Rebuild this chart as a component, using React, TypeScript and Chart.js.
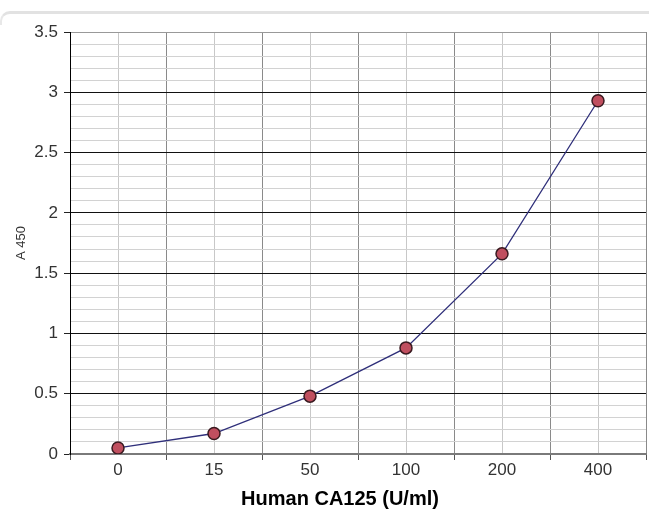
import React, { useEffect, useRef } from "react";
import { Chart, registerables } from "chart.js";

Chart.register(...registerables);

const categories = ["0", "15", "50", "100", "200", "400"];
const absorbance = [0.05, 0.17, 0.48, 0.88, 1.66, 2.93];
const yMin = 0;
const yMax = 3.5;
const yStep = 0.1;
const xTitle = "Human CA125 (U/ml)";
const yTitle = "A 450";

const FONT = "Arial, 'Liberation Sans', sans-serif";

export default function App() {
  const ref = useRef<HTMLCanvasElement | null>(null);

  useEffect(() => {
    if (!ref.current) return;
    const points = absorbance.map((y, i) => ({ x: i, y }));
    const chart = new Chart(ref.current, {
      type: "line",
      data: {
        datasets: [
          {
            data: points,
            borderColor: "#2f2f7a",
            borderWidth: 1.3,
            pointRadius: 6,
            pointBackgroundColor: "#c04f5f",
            pointBorderColor: "#3a1a20",
            pointBorderWidth: 1.5,
            tension: 0,
            fill: false,
          },
        ],
      },
      options: {
        responsive: false,
        animation: false,
        events: [],
        layout: { autoPadding: false, padding: { top: 32, right: 3, left: 0, bottom: 0 } },
        plugins: { legend: { display: false }, tooltip: { enabled: false } },
        scales: {
          x: {
            type: "linear",
            min: -0.5,
            max: categories.length - 0.5,
            afterFit: (s: any) => {
              s.height = 63;
            },
            ticks: {
              stepSize: 0.5,
              autoSkip: false,
              maxRotation: 0,
              padding: 0,
              color: "#333",
              font: { family: FONT, size: 17 },
              callback: (v: any) => {
                const n = Number(v);
                return Number.isInteger(n) ? categories[n] ?? "" : "";
              },
            },
            grid: {
              tickLength: 6,
              lineWidth: 1,
              color: (c: any) => {
                const v = c.tick ? c.tick.value : 0;
                return Number.isInteger(v) ? "#c8c8c8" : "#8a8a8a";
              },
              tickColor: (c: any) => {
                const v = c.tick ? c.tick.value : 0;
                return Number.isInteger(v) ? "rgba(0,0,0,0)" : "#555";
              },
            },
            border: { color: "#7a7a7a", width: 2 },
          },
          y: {
            min: yMin,
            max: yMax,
            afterFit: (s: any) => {
              s.width = 70;
            },
            title: {
              display: true,
              text: yTitle,
              color: "#333",
              font: { family: FONT, size: 13 },
              padding: { top: 14, bottom: 0 },
            },
            ticks: {
              stepSize: yStep,
              autoSkip: false,
              padding: 6,
              color: "#333",
              font: { family: FONT, size: 17 },
              callback: (v: any) => {
                const n = Number(v);
                return Math.round(n * 10) % 5 === 0 ? String(n) : "";
              },
            },
            grid: {
              tickLength: 6,
              lineWidth: 1,
              color: (c: any) => {
                const v = c.tick ? c.tick.value : 0;
                const t = Math.round(v * 10);
                if (t === 35) return "#999";
                return t % 5 === 0 ? "#111" : "#d2d2d2";
              },
              tickColor: (c: any) => {
                const v = c.tick ? c.tick.value : 0;
                return Math.round(v * 10) % 5 === 0 ? "#222" : "rgba(0,0,0,0)";
              },
            },
            border: { color: "#000", width: 1 },
          },
        },
      },
    });
    return () => chart.destroy();
  }, []);

  return (
    <div
      style={{
        position: "fixed",
        left: 0,
        top: 0,
        width: 649,
        height: 517,
        background: "#fff",
        overflow: "hidden",
      }}
    >
      <div
        style={{
          position: "absolute",
          left: 0,
          top: 11,
          width: 680,
          height: 14,
          borderTop: "3px solid #e2e2e2",
          borderLeft: "2px solid #e8e8e8",
          borderTopLeftRadius: 10,
          boxSizing: "border-box",
        }}
      />
      <canvas
        ref={ref}
        width={649}
        height={517}
        style={{ position: "absolute", left: 0, top: 0, width: 649, height: 517 }}
      />
      <div
        style={{
          position: "absolute",
          left: 190,
          width: 300,
          top: 486,
          textAlign: "center",
          fontFamily: FONT,
          fontWeight: "bold",
          fontSize: 20,
          lineHeight: "24px",
          color: "#000",
          whiteSpace: "nowrap",
        }}
      >
        {xTitle}
      </div>
    </div>
  );
}
